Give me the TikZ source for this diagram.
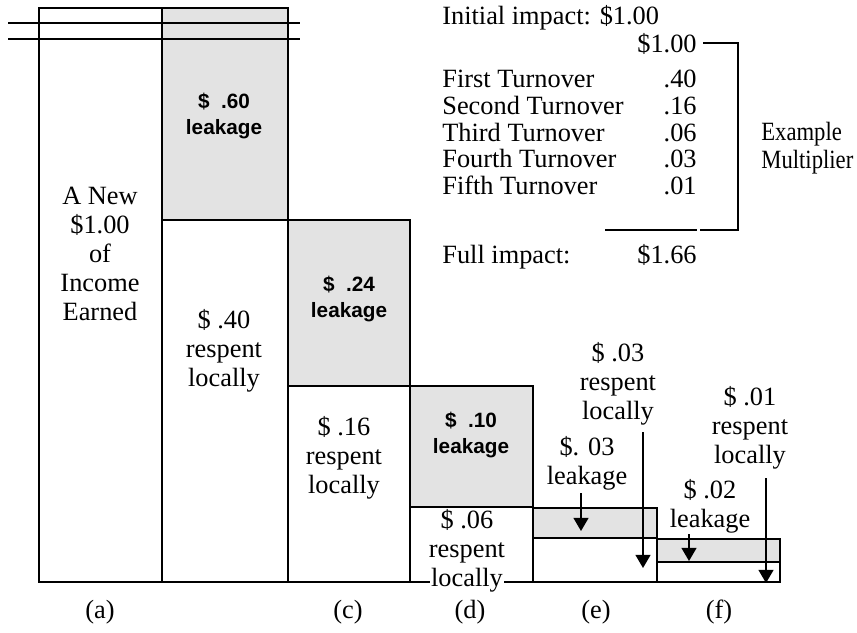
\documentclass[tikz,border=0pt]{standalone}
\usepackage{fontspec}
\setmainfont{Liberation Serif}
\newfontfamily\leaksans{Liberation Sans}
\usetikzlibrary{arrows.meta}

\tikzset{
  box/.style={draw, line width=1.1pt},
  leakbox/.style={box, fill=gray!22},
  txt/.style={font=\fontsize{15}{16.5}\selectfont, align=center, inner sep=1pt},
  leaktxt/.style={font=\leaksans\bfseries\fontsize{11.8}{14.6}\selectfont, align=center},
  flow/.style={line width=1pt, -{Triangle[width=8.5pt,length=7.5pt]}},
}

\begin{document}
\begin{tikzpicture}[x=0.02cm, y=-0.02cm]
  \useasboundingbox (0,0) rectangle (857,632);

  % colonne
  \draw[box] (39,8) rectangle (162,582);
  \draw[leakbox] (162,8) rectangle (288,220);
  \draw[box] (162,220) rectangle (288,582);
  \draw[leakbox] (288,220) rectangle (410,386);
  \draw[box] (288,386) rectangle (410,582);
  \draw[leakbox] (410,386) rectangle (533,507);
  \draw[box] (410,507) rectangle (533,582);
  \draw[leakbox] (533,508) rectangle (657,538);
  \draw[box] (533,538) rectangle (657,582);
  \draw[leakbox] (657,539) rectangle (780,562);
  \draw[box] (657,562) rectangle (780,582);

  % taglio
  \draw[line width=0.9pt] (8,23) -- (300,23);
  \draw[line width=0.9pt] (8,39) -- (300,39);

  % testi colonne
  \node[txt] (income) at (100,254) {A New\\\$1.00\\of\\Income\\Earned};
  \node[leaktxt] (leak60) at (224,116) {\$\ \ .60\\leakage};
  \node[txt] (resp40) at (224,351) {\$ .40\\respent\\locally};
  \node[leaktxt] (leak24) at (349,299) {\$\ \ .24\\leakage};
  \node[txt] (resp16) at (344,458) {\$ .16\\respent\\locally};
  \node[leaktxt] (leak10) at (471,435) {\$\ \ .10\\leakage};
  \node[txt] (resp06) at (467,536) {\$ .06\\respent};
  \node[txt, fill=white, inner sep=0.5pt] (loc06) at (467,580) {locally};
  \node[txt] (leak03) at (587,463) {\$. 03\\leakage};
  \node[txt] (resp03) at (618,384) {\$ .03\\respent\\locally};
  \node[txt] (leak02) at (710,506) {\$ .02\\leakage};
  \node[txt] (resp01) at (750,428) {\$ .01\\respent\\locally};

  % frecce
  \coordinate (eleaktop) at (581,493);
  \coordinate (eleaktip) at (581,531);
  \coordinate (eresptop) at (643,432);
  \coordinate (eresptip) at (643,568);
  \coordinate (fleaktop) at (689,534);
  \coordinate (fleaktip) at (689,561);
  \coordinate (fresptop) at (766,478);
  \coordinate (fresptip) at (766,583);
  \draw[flow] (eleaktop) -- (eleaktip);
  \draw[flow] (eresptop) -- (eresptip);
  \draw[flow] (fleaktop) -- (fleaktip);
  \draw[flow] (fresptop) -- (fresptip);

  % etichette
  \node[txt] (la) at (100,612) {(a)};
  \node[txt] (lc) at (348,612) {(c)};
  \node[txt] (ld) at (470,612) {(d)};
  \node[txt] (le) at (596,612) {(e)};
  \node[txt] (lf) at (719,612) {(f)};

  % tabella
  \node[txt, anchor=base west, inner sep=0pt] (initial) at (442,24) {Initial impact: \$1.00};
  \node[txt, anchor=base east, inner sep=0pt] (v100) at (697,52) {\$1.00};
  \node[txt, anchor=base west, inner sep=0pt] (t1) at (442,87) {First Turnover};
  \node[txt, anchor=base east, inner sep=0pt] (v40) at (697,87) {.40};
  \node[txt, anchor=base west, inner sep=0pt] (t2) at (442,114) {Second Turnover};
  \node[txt, anchor=base east, inner sep=0pt] (v16) at (697,114) {.16};
  \node[txt, anchor=base west, inner sep=0pt] (t3) at (442,141) {Third Turnover};
  \node[txt, anchor=base east, inner sep=0pt] (v06) at (697,141) {.06};
  \node[txt, anchor=base west, inner sep=0pt] (t4) at (442,167) {Fourth Turnover};
  \node[txt, anchor=base east, inner sep=0pt] (v03) at (697,167) {.03};
  \node[txt, anchor=base west, inner sep=0pt] (t5) at (442,194) {Fifth Turnover};
  \node[txt, anchor=base east, inner sep=0pt] (v01) at (697,194) {.01};
  \node[txt, anchor=base west, inner sep=0pt] (full) at (442,263) {Full impact:};
  \node[txt, anchor=base east, inner sep=0pt] (v166) at (697,263) {\$1.66};
  \node[txt, anchor=base west, inner sep=0pt] (ex) at (761,140) {\scalebox{0.86}[1]{Example}};
  \node[txt, anchor=base west, inner sep=0pt] (mult) at (761,168) {\scalebox{0.86}[1]{Multiplier}};

  % parentesi
  \draw[line width=0.6pt] (605,230) -- (697,230);
  \draw[line width=0.9pt] (703,43) -- (738,43) -- (738,230) -- (700,230);
\end{tikzpicture}
\end{document}
